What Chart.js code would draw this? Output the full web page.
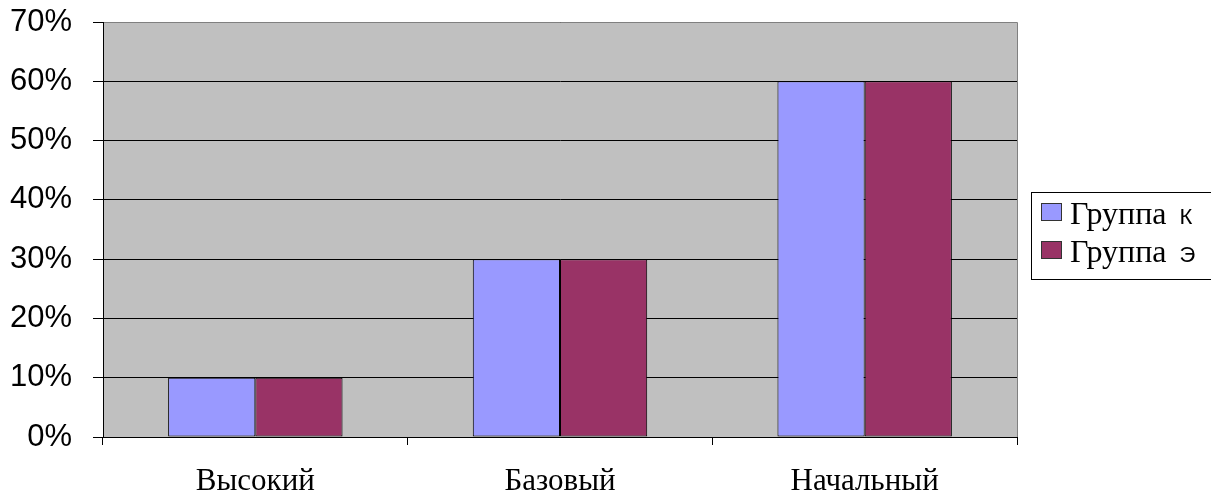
<!DOCTYPE html>
<html>
<head>
<meta charset="utf-8">
<script src="https://cdn.jsdelivr.net/npm/chart.js@4/dist/chart.umd.min.js"></script>
<style>
  html, body { margin: 0; padding: 0; background: #fff; }
  #wrap { width: 1211px; height: 495px; position: relative; }
</style>
</head>
<body>
<div id="wrap"><canvas id="c" width="1211" height="495"></canvas></div>
<script>
// Уровни и доли учащихся по группам
const categories = ['Высокий', 'Базовый', 'Начальный'];
const groupK = [10, 30, 60];
const groupE = [10, 30, 60];
const seriesNames = ['Группа К', 'Группа Э'];
const seriesColors = ['#9999FF', '#993366'];
const yTicks = [0, 10, 20, 30, 40, 50, 60, 70];

// Серый фон области построения
const plotBackground = {
  id: 'plotBackground',
  beforeDraw(chart) {
    const { ctx, chartArea: a } = chart;
    ctx.save();
    ctx.fillStyle = '#fff';
    ctx.fillRect(0, 0, chart.width, chart.height);
    ctx.fillStyle = '#C0C0C0';
    ctx.fillRect(a.left, a.top, a.right - a.left, a.bottom - a.top);
    ctx.restore();
  },
  afterDatasetsDraw(chart) {
    // серая рамка сверху и справа
    const { ctx, chartArea: a } = chart;
    ctx.save();
    ctx.strokeStyle = '#808080';
    ctx.lineWidth = 1;
    ctx.beginPath();
    ctx.moveTo(a.left + 1, a.top + 0.5);
    ctx.lineTo(a.right + 0.5, a.top + 0.5);
    ctx.lineTo(a.right + 0.5, a.bottom);
    ctx.stroke();
    ctx.restore();
  }
};

// Легенда в рамке справа
const boxLegend = {
  id: 'boxLegend',
  afterDraw(chart) {
    const { ctx } = chart;
    ctx.save();
    ctx.strokeStyle = '#000';
    ctx.lineWidth = 1;
    ctx.strokeRect(1031.5, 192.5, 200, 87);
    chart.data.datasets.forEach((ds, i) => {
      const sy = 203 + i * 38;
      ctx.fillStyle = ds.backgroundColor;
      ctx.fillRect(1041, sy, 21, 18);
      ctx.strokeStyle = '#333';
      ctx.strokeRect(1041.5, sy + 0.5, 20, 17);
      const label = ds.label;
      const cut = label.lastIndexOf(' ');
      const head = label.slice(0, cut);
      const tail = label.slice(cut + 1);
      const base = 224 + i * 38;
      ctx.fillStyle = '#000';
      ctx.textBaseline = 'alphabetic';
      ctx.textAlign = 'left';
      ctx.font = '32px "Liberation Serif"';
      ctx.fillText(head, 1070, base);
      const w = ctx.measureText(head).width;
      ctx.font = '22px "Liberation Sans"';
      ctx.fillText(tail, 1070 + w + 13, base);
    });
    ctx.restore();
  }
};

new Chart(document.getElementById('c'), {
  type: 'bar',
  data: {
    labels: categories,
    datasets: [
      { label: seriesNames[0], data: groupK, backgroundColor: seriesColors[0] },
      { label: seriesNames[1], data: groupE, backgroundColor: seriesColors[1] }
    ].map(d => Object.assign(d, {
      borderColor: '#000',
      borderWidth: 1,
      borderSkipped: false,
      barPercentage: 1,
      categoryPercentage: 0.5725
    }))
  },
  options: {
    responsive: false,
    animation: false,
    layout: { padding: { top: 22, right: 194, bottom: 0, left: 0 } },
    plugins: {
      legend: { display: false },
      tooltip: { enabled: false }
    },
    scales: {
      x: {
        afterFit(scale) {
          scale.height = 58;
          scale.paddingLeft = 0;
          scale.paddingRight = 0;
        },
        grid: {
          drawOnChartArea: false,
          drawTicks: true,
          offset: true,
          tickLength: 8,
          color: '#000'
        },
        border: { display: true, color: '#000', width: 1 },
        ticks: {
          color: '#000',
          padding: 18,
          font: { family: 'Liberation Serif', size: 31 }
        }
      },
      y: {
        min: 0,
        max: 70,
        afterFit(scale) {
          scale.width = 103;
          scale.paddingTop = 0;
          scale.paddingBottom = 0;
        },
        afterBuildTicks(scale) { scale.ticks = yTicks.map(v => ({ value: v })); },
        grid: { color: '#000', tickLength: 10, lineWidth: 1 },
        border: { display: true, color: '#000', width: 1 },
        ticks: {
          color: '#000',
          padding: 21,
          font: { family: 'Liberation Sans', size: 31 },
          callback: v => v + '%'
        }
      }
    }
  },
  plugins: [plotBackground, boxLegend]
});
</script>
</body>
</html>
